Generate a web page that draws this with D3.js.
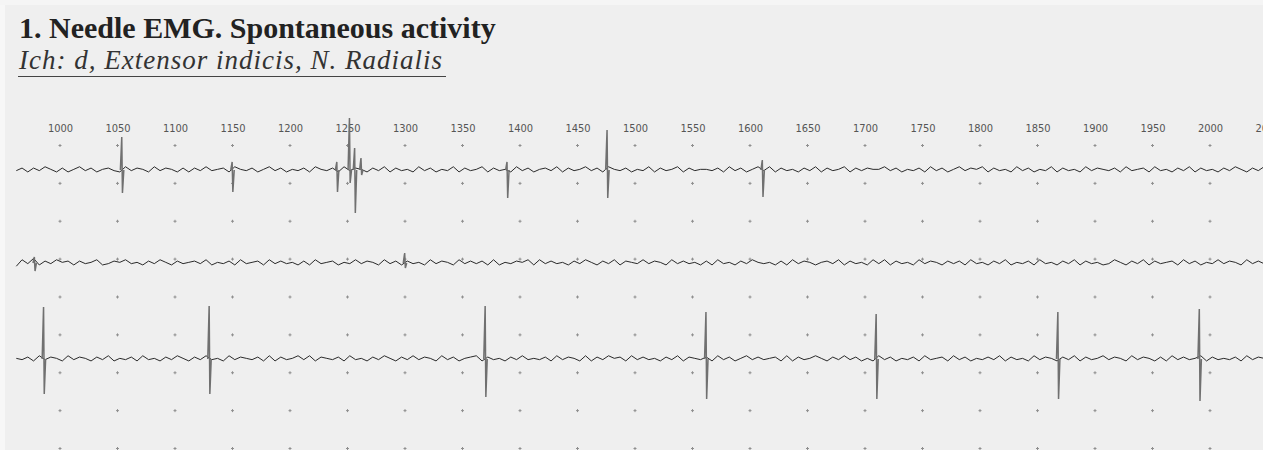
<!DOCTYPE html>
<html>
<head>
<meta charset="utf-8">
<script src="https://cdn.jsdelivr.net/npm/d3@7.9.0/dist/d3.min.js"></script>
<style>
  html, body { margin: 0; padding: 0; background: #efefef; overflow: hidden; }
  svg { display: block; }
</style>
</head>
<body>
<div id="chart"></div>
<script>
const title = '1. Needle EMG. Spontaneous activity';
const subtitle = 'Ich: d, Extensor indicis, N. Radialis';

// time marks printed above the first sweep
const tickValues = [1000, 1050, 1100, 1150, 1200, 1250, 1300, 1350, 1400, 1450, 1500,
  1550, 1600, 1650, 1700, 1750, 1800, 1850, 1900, 1950, 2000, 2050];

// baseline noise, one digit per sample (every 5 time units from traceStart), 4.5 = zero line
const traceStart = 962;
const traceStep = 5;
const trace1Wiggle =
  '4636475363574635643746537465363647456375463574635463754637465364736453' +
  '7463547364573645374635647364574637546354736457364554637463574736453647' +
  '3645736465574635463746357465736453746354736453746546374563745364736453' +
  '6475364736';
const trace2Wiggle =
  '2748364756364573465745364753645647354637456374645363745635474653746364' +
  '5374653746463735465737464536475364736547465374645363745364754536374653' +
  '5647364537473645374653646374536473546374536473645347536473645637463547' +
  '4653746453';
const trace3Wiggle =
  '5463746537465364735463745364753647453746546373645747365463745364753647' +
  '4653746356736453647454637465373647563746453647365463746357464563736457' +
  '5364746353746354637456374635464736453746536473645746537465363746457364' +
  '5463746537';

// spikes: [time, peak up, peak down] in trace units (1 unit ~ 1 px)
const trace1Spikes = [
  [1054, 33, -23], [1150, 8, -22], [1241, 8, -22], [1252, 52, -13],
  [1256.5, 22, -43], [1262, 12, -5], [1389, 8, -28], [1476, 40, -28], [1611, 10, -27]
];
const trace2Spikes = [[978, 6, -8], [1300, 10, -5]];
const trace3Spikes = [
  [986, 52, -35], [1130, 53, -35], [1370, 53, -38], [1562, 47, -40],
  [1710, 45, -40], [1868, 47, -40], [1991, 50, -42]
];

const width = 1263;
const height = 450;

const svg = d3.select('#chart').append('svg')
  .attr('width', width)
  .attr('height', height);

svg.append('rect').attr('width', width).attr('height', height).attr('fill', '#efefef');
// lighter scanner margin on the left and top
svg.append('rect').attr('width', 5).attr('height', height).attr('fill', '#f7f7f7');
svg.append('rect').attr('width', width).attr('height', 5).attr('fill', '#f5f5f5');

// title block
svg.append('text')
  .attr('x', 19).attr('y', 38)
  .attr('font-family', '"Liberation Serif", "Times New Roman", serif')
  .attr('font-weight', 'bold')
  .attr('font-size', 30)
  .attr('fill', '#222')
  .text(title);

svg.append('text')
  .attr('x', 19).attr('y', 69)
  .attr('font-family', '"Liberation Serif", "Times New Roman", serif')
  .attr('font-style', 'italic')
  .attr('font-size', 27)
  .attr('letter-spacing', 1)
  .attr('fill', '#333')
  .text(subtitle);

svg.append('line')
  .attr('x1', 18).attr('x2', 446)
  .attr('y1', 76.5).attr('y2', 76.5)
  .attr('stroke', '#444');

// time scale shared by all sweeps
const x = d3.scaleLinear().domain([1000, 2050]).range([60, 1267.5]);

const axis = d3.axisTop(x).tickValues(tickValues).tickSize(0).tickPadding(0)
  .tickFormat(d3.format('d'));

svg.append('g')
  .attr('transform', 'translate(0,132)')
  .call(axis)
  .call(g => g.select('.domain').remove())
  .selectAll('text')
  .attr('font-family', '"Liberation Sans Narrow", "DejaVu Sans Condensed", sans-serif')
  .attr('font-size', 11)
  .attr('fill', '#555');

// dotted grid of marks
const gridY = d3.scaleLinear().domain([0, 8]).range([145, 448]);
const gridRows = d3.range(9);
const marks = svg.append('g').attr('stroke', '#8f8f8f').attr('stroke-width', 1);
gridRows.forEach(r => {
  marks.selectAll(null)
    .data(tickValues)
    .join('path')
    .attr('transform', d => `translate(${x(d)},${gridY(r)})`)
    .attr('d', 'M-1.5,0.5h3M0,-1v3');
});

// sweeps
const amp = d3.scaleLinear().domain([-60, 60]).range([60, -60]);
const wiggleLine = d3.line().x(d => x(d.t)).y(d => amp(d.v));

const traces = [
  { wiggle: trace1Wiggle, spikes: trace1Spikes, y: 170 },
  { wiggle: trace2Wiggle, spikes: trace2Spikes, y: 263 },
  { wiggle: trace3Wiggle, spikes: trace3Spikes, y: 359 },
];

traces.forEach(tr => {
  const g = svg.append('g').attr('transform', `translate(0,${tr.y})`);

  const pts = tr.wiggle.split('').map((c, i) => ({
    t: traceStart + i * traceStep,
    v: (+c - 4.5) * 1.3
  }));

  g.append('path')
    .attr('d', wiggleLine(pts))
    .attr('fill', 'none')
    .attr('stroke', '#2a2a2a')
    .attr('stroke-width', 1);

  g.selectAll('path.spike')
    .data(tr.spikes)
    .join('path')
    .attr('class', 'spike')
    .attr('d', ([t, up, down]) => wiggleLine([
      { t: t - 1.5, v: 0 }, { t: t - 0.3, v: up }, { t: t + 0.3, v: down }, { t: t + 1.5, v: 0 }
    ]))
    .attr('fill', 'none')
    .attr('stroke', '#707070')
    .attr('stroke-width', 1.5);
});
</script>
</body>
</html>
